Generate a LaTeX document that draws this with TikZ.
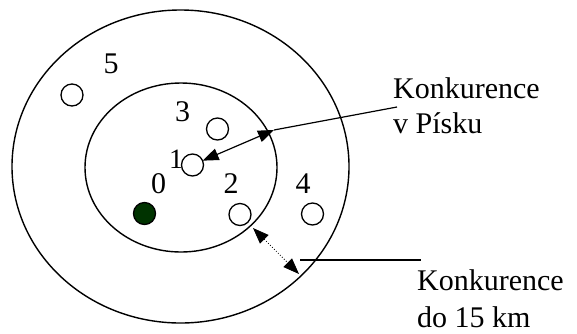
\documentclass[tikz,border=0pt]{standalone}
\usepackage{fontspec}
\setmainfont{Liberation Serif}
\usetikzlibrary{shapes.geometric,arrows.meta}
\definecolor{darkfirm}{RGB}{0,51,0}
\begin{document}
\begin{tikzpicture}[x=1pt,y=-1pt,
  ring/.style={draw, ellipse, line width=1.4pt, inner sep=0pt, outer sep=0pt},
  firm/.style={draw, circle, line width=1.3pt, minimum size=22pt, inner sep=0pt, outer sep=0pt, fill=white},
  num/.style={font=\fontsize{30}{35}\selectfont, inner sep=0pt, anchor=base},
  lab/.style={font=\fontsize{30}{35}\selectfont, inner sep=0pt, anchor=base west},
  conn/.style={line width=1.2pt},
  dblarrow/.style={line width=1.2pt, {Triangle[length=16pt,width=12pt]}-{Triangle[length=16pt,width=12pt]}},
  dotarrow/.style={line width=0.8pt, dotted, {Triangle[length=16pt,width=12pt]}-{Triangle[length=16pt,width=12pt]}}
]
\useasboundingbox (0,0) rectangle (577,333);

\node[ring, minimum width=337pt, minimum height=313pt] (outer) at (180.5,166.5) {};
\node[ring, minimum width=192pt, minimum height=169pt] (inner) at (181,167.5) {};

% labels of firms
\node[num] (n5) at (111,73) {5};
\node[num] (n3) at (182.5,121.7) {3};
\node[num, font=\fontsize{28}{32}\selectfont] (n1) at (176,168) {1};
\node[num] (n0) at (158.5,193) {0};
\node[num] (n2) at (231,193) {2};
\node[num] (n4) at (303,193) {4};

% firms
\node[firm] (c5) at (72,95) {};
\node[firm] (c3) at (217.5,129) {};
\node[firm] (c1) at (192.5,165) {};
\node[firm, fill=darkfirm] (c0) at (144.5,213.5) {};
\node[firm] (c2) at (240,214.5) {};
\node[firm] (c4) at (312.5,214) {};

% texts
\node[lab] (t1) at (393,98) {Konkurence};
\node[lab] (t2) at (393,133) {v Písku};
\node[lab] (t3) at (417,290) {Konkurence};
\node[lab] (t4) at (417,327) {do 15 km};

% connectors
\coordinate (pA) at (274,130);
\coordinate (pB) at (397,107);
\coordinate (pC) at (253,228);
\coordinate (pD) at (299,274);
\coordinate (pE) at (300,260);
\coordinate (pF) at (421,260);

\draw[dblarrow] (c1) -- (pA);
\draw[conn] (pA) -- (pB);
\draw[dotarrow] (pC) -- (pD);
\draw[conn] (pE) -- (pF);
\end{tikzpicture}
\end{document}
